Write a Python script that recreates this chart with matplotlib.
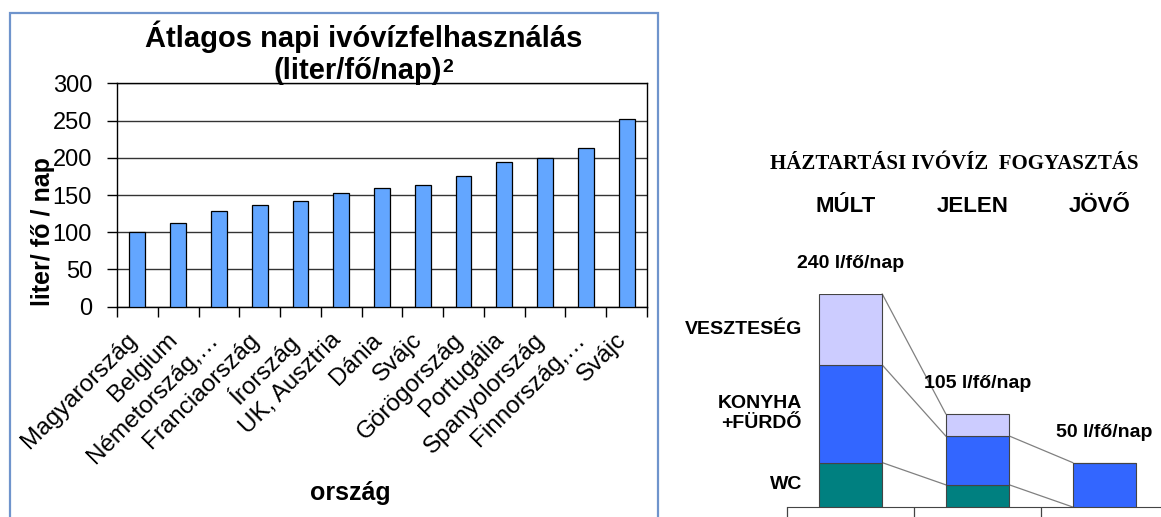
import matplotlib

matplotlib.use("Agg")
import matplotlib.pyplot as plt
import matplotlib.transforms as mtransforms
import numpy as np
from matplotlib.patches import Rectangle

plt.rcParams["font.family"] = ["Liberation Sans", "DejaVu Sans"]

# left chart: average daily drinking water use per country
COUNTRIES = [
    "Magyarország", "Belgium", "Németország,…", "Franciaország", "Írország",
    "UK, Ausztria", "Dánia", "Svájc", "Görögország", "Portugália",
    "Spanyolország", "Finnország,…", "Svájc",
]
USAGE = [100, 112, 129, 137, 142, 153, 159, 164, 175, 194, 200, 213, 252]

# right chart: household use, past / present / future (l/fő/nap)
PERIODS = ["MÚLT", "JELEN", "JÖVŐ"]
WC = [50, 25, 0]
KONYHA = [110, 55, 50]
VESZTESEG = [80, 25, np.nan]
SEGMENT_NAMES = ["WC", "KONYHA\n+FÜRDŐ", "VESZTESÉG"]
SEGMENT_COLORS = ["#008080", "#3366FF", "#CCCCFF"]

W, H = 1161, 517


def px_rect(x0, y0, x1, y1):
    """pixel box (top-left origin) -> figure fraction rect"""
    return [x0 / W, 1 - y1 / H, (x1 - x0) / W, (y1 - y0) / H]


fig = plt.figure(figsize=(W / 100, H / 100), dpi=100)

# ---- left bar chart ----
ax = fig.add_axes(px_rect(117, 83.3, 647, 306.7))
x = np.arange(len(COUNTRIES))
ax.bar(x, USAGE, width=0.39, color="#63A6FF", edgecolor="black", linewidth=0.9, zorder=3)
ax.set_xlim(-0.5, len(COUNTRIES) - 0.5)
ax.set_ylim(0, 300)
ax.set_yticks(range(0, 301, 50))
ax.yaxis.grid(True, color="#333333", linewidth=1)
ax.set_axisbelow(True)
ax.tick_params(axis="y", labelsize=17, length=7, width=1, pad=11)
ax.set_xticks(x)
ax.set_xticklabels(COUNTRIES, rotation=45, ha="right", fontsize=17.5)
ax.tick_params(axis="x", which="major", length=0, pad=16)
ax.set_xticks(np.arange(-0.5, len(COUNTRIES)), minor=True)
ax.tick_params(axis="x", which="minor", length=7, width=1)
shift = mtransforms.ScaledTranslation(0.04, 0, fig.dpi_scale_trans)
for lbl in ax.get_xticklabels():
    lbl.set_transform(lbl.get_transform() + shift)
for sp in ax.spines.values():
    sp.set_color("black")
    sp.set_linewidth(1)

fig.text(364 / W, 1 - 37 / H, "Átlagos napi ivóvízfelhasználás",
         fontsize=21, fontweight="bold", ha="center", va="center")
unit = fig.text(358 / W, 1 - 71 / H, "(liter/fő/nap)",
                fontsize=21, fontweight="bold", ha="center", va="center")
ax.annotate("2", xy=(1.0, 0.93), xycoords=unit, ha="left", va="top",
            fontsize=14, fontweight="bold", annotation_clip=False)
fig.text(43 / W, 1 - 232 / H, "liter/ fő / nap", fontsize=18, fontweight="bold",
         rotation=90, ha="center", va="center")
fig.text(350 / W, 1 - 493 / H, "ország", fontsize=18, fontweight="bold",
         ha="center", va="center")

fig.add_artist(Rectangle((10 / W, -0.05), (658 - 10) / W, 1.05 - 13 / H,
                         transform=fig.transFigure, fill=False,
                         edgecolor="#6F94CC", linewidth=1.6))

# ---- right stacked chart ----
ax2 = fig.add_axes(px_rect(787, 294, 1161, 507))
pos = np.arange(len(PERIODS))
series = [np.array(WC, float), np.array(KONYHA, float), np.array(VESZTESEG, float)]
bottom = np.zeros(len(PERIODS))
tops = []
for vals, color in zip(series, SEGMENT_COLORS):
    ax2.bar(pos, np.nan_to_num(vals), 0.5, bottom=bottom, color=color,
            edgecolor="#444444", linewidth=0.8, zorder=3)
    bottom = bottom + np.nan_to_num(vals)
    tops.append(np.where(np.isnan(vals), np.nan, bottom))

# series lines between neighbouring bars
for top in tops:
    for i in range(len(PERIODS) - 1):
        ax2.plot([i + 0.25, i + 0.75], [top[i], top[i + 1]],
                 color="#808080", linewidth=0.9, zorder=2, clip_on=False)

ax2.set_xlim(-0.5, -0.5 + 374 / 127)
ax2.set_ylim(0, 240)
ax2.set_yticks([])
ax2.set_xticks([-0.5, 0.5, 1.5])
ax2.set_xticklabels([])
ax2.tick_params(axis="x", length=7, width=0.9, color="#444444")
for side in ["left", "top", "right"]:
    ax2.spines[side].set_visible(False)
ax2.spines["bottom"].set_color("#444444")

totals = bottom
for i, t in enumerate(totals):
    ax2.annotate(f"{t:.0f} l/fő/nap", (i, t), xytext=(0, 22), textcoords="offset points",
                 ha="center", va="center", fontsize=14, fontweight="bold",
                 annotation_clip=False)

# segment names to the left of the first bar
start = 0.0
for vals, name in zip(series, SEGMENT_NAMES):
    mid = start + vals[0] / 2
    start += vals[0]
    ax2.annotate(name, (-0.25, mid), xytext=(-12, 0), textcoords="offset points",
                 ha="right", va="center", multialignment="right", linespacing=1.25,
                 fontsize=14, fontweight="bold", annotation_clip=False)

blend = mtransforms.blended_transform_factory(ax2.transData, fig.transFigure)
for i, name in enumerate(PERIODS):
    ax2.text(i - 0.04, 1 - 207 / H, name, transform=blend, fontsize=16,
             fontweight="bold", ha="center", va="center")

fig.text(954 / W, 1 - 164 / H, "HÁZTARTÁSI IVÓVÍZ  FOGYASZTÁS",
         family=["Liberation Serif", "DejaVu Serif"], fontsize=15,
         fontweight="bold", ha="center", va="center")

fig.savefig("out.png", dpi=100)
